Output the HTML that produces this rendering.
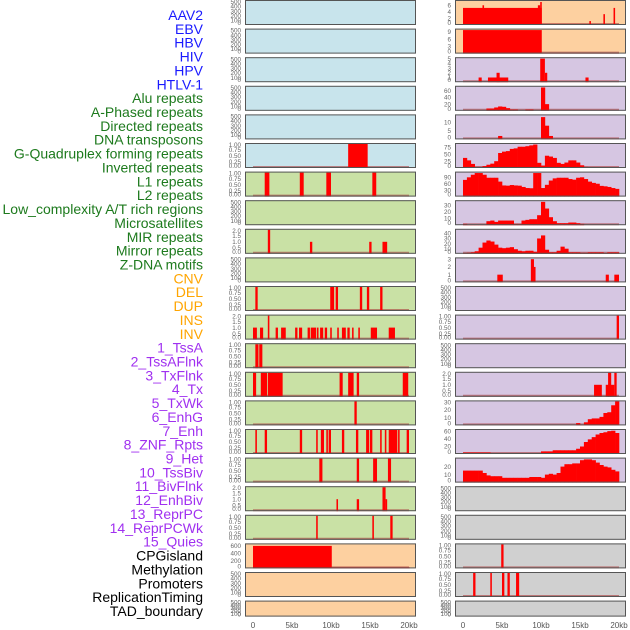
<!DOCTYPE html>
<html><head><meta charset="utf-8"><style>
html,body{margin:0;padding:0;background:#fff;}
svg{display:block;font-family:"Liberation Sans",sans-serif;}
</style></head><body>
<svg id="chart" width="630" height="630" viewBox="0 0 630 630" xmlns="http://www.w3.org/2000/svg"></svg>
<script>
const NS="http://www.w3.org/2000/svg";
// ---- data ----
const labels=["AAV2","EBV","HBV","HIV","HPV","HTLV-1","Alu repeats","A-Phased repeats","Directed repeats","DNA transposons","G-Quadruplex forming repeats","Inverted repeats","L1 repeats","L2 repeats","Low_complexity A/T rich regions","Microsatellites","MIR repeats","Mirror repeats","Z-DNA motifs","CNV","DEL","DUP","INS","INV","1_TssA","2_TssAFlnk","3_TxFlnk","4_Tx","5_TxWk","6_EnhG","7_Enh","8_ZNF_Rpts","9_Het","10_TssBiv","11_BivFlnk","12_EnhBiv","13_ReprPC","14_ReprPCWk","15_Quies","CPGisland","Methylation","Promoters","ReplicationTiming","TAD_boundary"];
const xTicks=[0,5,10,15,20];
const xTickLabels=["0","5kb","10kb","15kb","20kb"];
const ticksEmpty=[0,100,200,300,400,500];
const ticksUnit=[0,0.25,0.5,0.75,1];
const ticksTwo=[0,0.5,1,1.5,2];
// segments [startKb,endKb,value]
const htlvSegs=[[12.2,14.7,1]];
const aluSegs=[[1.5,2.1,1],[6.0,6.5,1],[9.4,10.0,1],[15.3,15.8,1]];
const directedSegs=[[1.9,2.2,2],[7.3,7.6,1],[14.9,15.2,1],[16.6,17.2,1]];
const gquadSegs=[[0.3,0.6,1],[9.9,10.4,1],[10.6,10.9,1],[13.7,14.0,1],[14.6,14.9,1],[16.3,16.6,1]];
const invertedSegs=[[0,0.5,1],[0.9,1.3,1],[1.9,2.1,2],[2.9,3.2,1],[3.6,4.2,1],[5.4,5.7,1],[5.9,6.3,1],[7.0,7.3,1],[7.4,8.1,1],[8.2,8.4,1],[8.6,9.0,1],[9.2,9.5,1],[9.9,10.1,1],[10.8,11.0,1],[11.4,11.9,1],[12.1,12.4,1],[12.7,12.9,1],[13.5,13.7,1],[15.1,15.9,1],[17.4,18.2,1]];
const l1Segs=[[0.3,0.7,1],[0.8,1.2,1]];
const l2Segs=[[0,0.4,1],[1.0,1.8,1],[1.9,3.8,1],[11.1,11.5,1],[12.2,12.9,1],[13.3,13.6,1],[19.2,19.9,1]];
const lowSegs=[[13.0,13.3,1]];
const microSegs=[[0.3,0.5,1],[1.5,1.8,1],[6.0,6.3,1],[8.1,8.3,1],[8.7,9.1,1],[9.4,9.6,1],[9.7,10.0,1],[11.4,11.7,1],[13.2,13.5,1],[14.5,14.9,1],[15.0,15.3,1],[16.3,16.5,1],[16.9,17.1,1],[17.4,18.5,1],[18.6,18.8,1],[19.7,20.0,1]];
const mirSegs=[[8.5,8.9,1],[13.3,13.6,1],[15.4,15.9,1],[17.3,17.7,1]];
const mirrorSegs=[[10.7,10.9,1],[13.3,13.6,1],[16.6,17.0,2],[17.0,17.2,1]];
const zdnaSegs=[[8.1,8.3,1],[15.3,15.5,1],[17.6,17.9,1]];
const cnvSegs=[[0,10.1,600],[10.1,20.1,30]];
const insSegs=[[0,10.1,5.2],[2.5,2.7,6],[9.6,9.9,6],[9.9,10.1,7],[16.2,16.4,1.2],[18.0,18.2,3.3],[19.3,19.5,5.2]];
const invSegs=[[0,10.1,9.8],[10.1,20,0.3]];
const tssASegs=[[2.0,2.4,1],[3.2,5.8,1],[4.3,4.7,2],[9.9,10.5,5],[10.5,10.8,2],[15.7,16.1,1]];
const znfSegs=[[4.4,5.1,1],[8.7,9.1,3],[9.1,9.3,2],[18.3,18.7,1],[19.4,20.0,1]];
const tssBivSegs=[[19.7,20.0,1]];
const enhBivSegs=[[16.8,17.8,1],[18.3,18.7,1],[18.6,19.0,2],[18.9,19.4,1],[19.4,19.7,2]];
const promoterSegs=[[4.9,5.2,1]];
const repTimingSegs=[[1.3,1.6,1],[3.5,3.7,1],[5.0,5.3,1],[5.7,6.0,1],[6.8,7.2,1]];
// histograms: 40 bins of 0.5kb
const tssAFlnkBins=[0,0,0,0,0,0,7,7,10,13,12,8,4,4,0,0,4,4,0,0,70,20,0,0,0,0,0,0,0,0,0,0,0,0,0,0,0,0,0,0];
const txFlnkBins=[0,0,0,0,0,0,0,0,0,2,0,0,0,0,0,0,0,0,0,0,13,8,2,0,0,0,0,0,0,0,0,0,0,0,0,0,0,0,0,0];
const txBins=[37,28,15,4,4,7,12,16,25,55,60,62,70,72,78,78,80,83,86,19,9,45,42,37,19,15,20,28,28,20,10,4,0,0,0,0,0,0,0,0];
const txWkBins=[78,90,102,110,110,102,88,88,88,70,52,51,54,52,51,45,40,39,110,110,40,55,75,85,88,88,88,82,79,88,90,82,70,64,60,50,48,45,40,36];
const enhGBins=[2,1,1,1,1,1,6,7,5,7,7,7,7,2,2,7,8,9,9,15,35,25,12,6,3,3,3,4,4,3,2,0,0,0,0,0,0,0,0,0];
const enhBins=[1,2,3,5,12,22,26,24,18,12,11,12,13,9,6,5,6,6,4,30,36,8,3,3,6,14,10,3,3,3,2,2,3,3,3,3,1,3,3,3];
const reprPCBins=[0,0,0,0,0,0,0,0,0,0,0,0,0,0,0,0,0,0,0,0,0,0,0,0,0,0,0,0,0,3,1,4,8,9,9,11,16,17,26,31];
const reprPCWkBins=[4,4,4,4,4,4,4,1,1,1,1,1,1,1,1,1,1,1,1,1,7,7,7,10,10,10,10,10,10,14,20,32,39,45,52,56,58,61,62,56];
const quiesBins=[15,15,15,15,15,12,9,8,8,8,6,6,6,6,6,6,6,7,7,7,6,10,11,10,12,20,23,23,24,24,28,29,29,28,25,22,20,19,16,14];

const BLUE="#c8e4ec",GREEN="#c9e1a5",ORANGE="#fdd0a0",PURPLE="#d6c6e2",GRAY="#d0d0d0";
// panel config: col,row,bg,ticks,tickLabels,ymax,kind,data
const panels=[
 [0,0,BLUE,ticksEmpty,null,520,null,null],
 [0,1,BLUE,ticksEmpty,null,520,null,null],
 [0,2,BLUE,ticksEmpty,null,520,null,null],
 [0,3,BLUE,ticksEmpty,null,520,null,null],
 [0,4,BLUE,ticksEmpty,null,520,null,null],
 [0,5,BLUE,ticksUnit,"f2",1,"seg",htlvSegs],
 [0,6,GREEN,ticksUnit,"f2",1,"seg",aluSegs],
 [0,7,GREEN,ticksEmpty,null,520,null,null],
 [0,8,GREEN,ticksTwo,"f1",2,"seg",directedSegs],
 [0,9,GREEN,ticksEmpty,null,520,null,null],
 [0,10,GREEN,ticksUnit,"f2",1,"seg",gquadSegs],
 [0,11,GREEN,ticksTwo,"f1",2,"seg",invertedSegs],
 [0,12,GREEN,ticksUnit,"f2",1,"seg",l1Segs],
 [0,13,GREEN,ticksUnit,"f2",1,"seg",l2Segs],
 [0,14,GREEN,ticksUnit,"f2",1,"seg",lowSegs],
 [0,15,GREEN,ticksUnit,"f2",1,"seg",microSegs],
 [0,16,GREEN,ticksUnit,"f2",1,"seg",mirSegs],
 [0,17,GREEN,ticksTwo,"f1",2,"seg",mirrorSegs],
 [0,18,GREEN,ticksUnit,"f2",1,"seg",zdnaSegs],
 [0,19,ORANGE,[0,200,400,600],null,640,"seg",cnvSegs],
 [0,20,ORANGE,ticksEmpty,null,520,null,null],
 [0,21,ORANGE,ticksEmpty,null,520,null,null],
 [1,0,ORANGE,[0,2,4,6],null,7.3,"seg",insSegs],
 [1,1,ORANGE,[0,3,6,9],null,10,"seg",invSegs],
 [1,2,PURPLE,[0,1,2,3,4,5],null,5.1,"seg",tssASegs],
 [1,3,PURPLE,[0,20,40,60],null,72,"hist",tssAFlnkBins],
 [1,4,PURPLE,[0,5,10],null,14,"hist",txFlnkBins],
 [1,5,PURPLE,[0,25,50,75],null,88,"hist",txBins],
 [1,6,PURPLE,[0,30,60,90],null,112,"hist",txWkBins],
 [1,7,PURPLE,[0,10,20,30],null,36,"hist",enhGBins],
 [1,8,PURPLE,[0,10,20,30,40],null,47,"hist",enhBins],
 [1,9,PURPLE,[0,1,2,3],null,3.1,"seg",znfSegs],
 [1,10,PURPLE,ticksEmpty,null,520,null,null],
 [1,11,PURPLE,ticksUnit,"f2",1,"seg",tssBivSegs],
 [1,12,PURPLE,ticksEmpty,null,520,null,null],
 [1,13,PURPLE,ticksTwo,"f1",2,"seg",enhBivSegs],
 [1,14,PURPLE,[0,10,20,30],null,31,"hist",reprPCBins],
 [1,15,PURPLE,[0,20,40,60],null,64,"hist",reprPCWkBins],
 [1,16,PURPLE,[0,10,20],null,30,"hist",quiesBins],
 [1,17,GRAY,ticksEmpty,null,520,null,null],
 [1,18,GRAY,ticksEmpty,null,520,null,null],
 [1,19,GRAY,ticksUnit,"f2",1,"seg",promoterSegs],
 [1,20,GRAY,ticksUnit,"f2",1,"seg",repTimingSegs],
 [1,21,GRAY,ticksEmpty,null,520,null,null]
];
const svg=document.getElementById('chart');
function mk(tag,attrs,parent){const e=document.createElementNS(NS,tag);for(const k in attrs)e.setAttribute(k,attrs[k]);(parent||svg).appendChild(e);return e;}
const colX=[245,455], PW=171;
function xScale(col,kb){return colX[col]+8+kb*7.8;}
function rowTop(r){return r*28.6;}
function rowH(r){return r===21?16:25;}

// labels
labels.forEach((t,i)=>{
  let c="#000";
  if(i<6)c="#1a1aff";else if(i<19)c="#1d7a1d";else if(i<24)c="#ffa500";else if(i<39)c="#a030f0";
  const el=mk('text',{x:203,y:20+i*13.86,'text-anchor':'end','font-size':14,fill:c});
  
  
  el.textContent=t;
});

panels.forEach((p,idx)=>{
  const [col,row,bg,ticks,fmt,ymax,kind,data]=p;
  const x0=colX[col], y0=rowTop(row), h=rowH(row);
  const g=mk('g',{});
  
  
  const bgr=mk('rect',{x:x0,y:y0,width:PW,height:h,fill:bg},g);
  
  
  const yS=v=>y0+h-(v/ymax)*(h-1);
  if(kind){
    const base=mk('line',{x1:xScale(col,0),x2:xScale(col,20),y1:y0+h-1,y2:y0+h-1,stroke:'rgba(170,60,60,0.6)','stroke-width':2},g);
    
    
  }
  if(kind==='seg'){
    data.forEach(s=>{
      const xa=xScale(col,s[0]),xb=xScale(col,s[1]);
      const r=mk('rect',{x:xa,y:yS(s[2]),width:Math.max(1.5,xb-xa),height:y0+h-yS(s[2]),fill:'#ff0000'},g);
      
      
    });
  } else if(kind==='hist'){
    data.forEach((v,i)=>{
      if(v<=0)return;
      const xa=xScale(col,i*0.5),xb=xScale(col,(i+1)*0.5);
      const r=mk('rect',{x:xa,y:yS(v),width:xb-xa+0.3,height:y0+h-yS(v),fill:'#ff0000'},g);
      
      
    });
  }
  const br=mk('rect',{x:x0+0.5,y:y0+0.5,width:PW-1,height:h-1,fill:'none',stroke:'#555','stroke-width':1},g);
  
  
  ticks.forEach(t=>{
    let s=String(t);
    if(fmt==='f2')s=t.toFixed(2);else if(fmt==='f1')s=t.toFixed(1);
    const ty=Math.min(y0+h,Math.max(y0+4,yS(t)+2.2));
    const tl=mk('text',{x:x0-4,y:ty,'text-anchor':'end','font-size':6.3,fill:'#666'},g);
    
    
    tl.textContent=s;
  });
});
// x axes
[0,1].forEach(col=>{
  xTicks.forEach((t,i)=>{
    const tl=mk('text',{x:xScale(col,t),y:628,'text-anchor':'middle','font-size':8,fill:'#555'});
    
    
    tl.textContent=xTickLabels[i];
  });
});
</script>
</body></html>
